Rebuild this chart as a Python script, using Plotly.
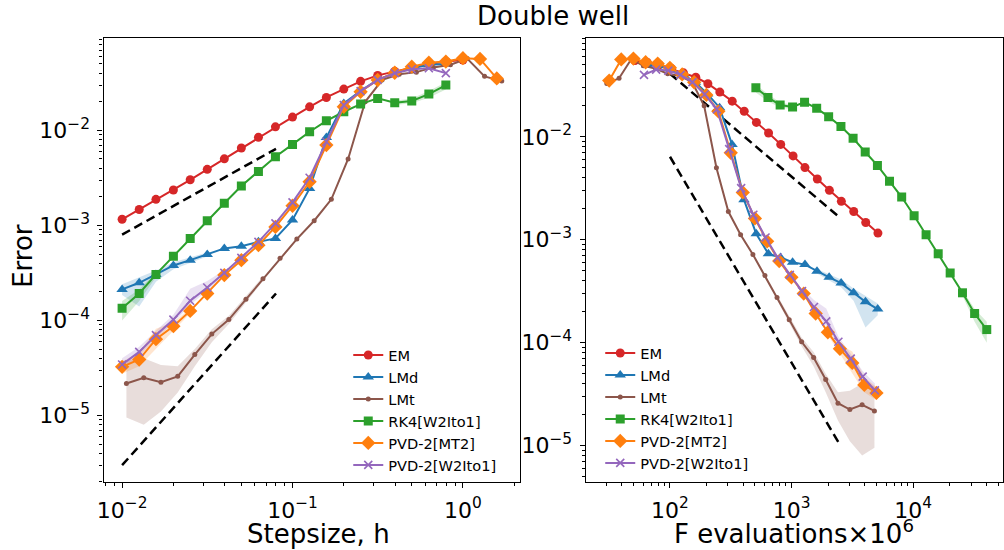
import plotly.graph_objects as go

# ---------------------------------------------------------------------------
# Data: weak error of each integrator for the double-well SDE
# ---------------------------------------------------------------------------
# step sizes (10 per decade)
h_std = [0.01, 0.0126, 0.0158, 0.02, 0.0251, 0.0316, 0.0398, 0.0501, 0.0631, 0.0794,
         0.1, 0.126, 0.158, 0.2, 0.251, 0.316, 0.398, 0.501, 0.631, 0.794,
         1.0, 1.26, 1.58]
h_lmt = [0.0106, 0.0134, 0.0169, 0.0212, 0.0267, 0.0336, 0.0423, 0.0533, 0.0671, 0.0845,
         0.106, 0.134, 0.169, 0.212, 0.267, 0.336, 0.423, 0.533, 0.671, 0.845,
         1.06, 1.34, 1.69]

err_em = [1.16e-3, 1.47e-3, 1.88e-3, 2.36e-3, 3.02e-3, 3.89e-3, 5.02e-3, 6.52e-3, 8.44e-3, 1.09e-2,
          1.38e-2, 1.77e-2, 2.22e-2, 2.72e-2, 3.28e-2, 3.79e-2, 4.18e-2, 4.6e-2, 5.0e-2, 5.3e-2,
          5.5e-2]
err_lmd = [2.12e-4, 2.49e-4, 3.05e-4, 3.79e-4, 4.31e-4, 4.95e-4, 5.73e-4, 6.05e-4, 6.71e-4, 7.3e-4,
           1.14e-3, 2.45e-3, 8.4e-3, 1.92e-2, 2.6e-2, 3.39e-2, 4.0e-2, 4.5e-2, 4.9e-2, 5.0e-2]
err_lmt = [2.17e-5, 2.49e-5, 2.24e-5, 2.58e-5, 4.38e-5, 7.18e-5, 1.02e-4, 1.67e-4, 2.74e-4, 4.5e-4,
           7.18e-4, 1.12e-3, 1.88e-3, 5.0e-3, 2.0e-2, 3.4e-2, 3.9e-2, 4.1e-2, 4.6e-2, 4.9e-2,
           5.7e-2, 3.7e-2, 3.3e-2]
err_rk4 = [1.34e-4, 1.92e-4, 3.05e-4, 4.75e-4, 7.3e-4, 1.12e-3, 1.71e-3, 2.6e-3, 3.7e-3, 5.27e-3,
           7.12e-3, 9.67e-3, 1.26e-2, 1.57e-2, 1.89e-2, 2.17e-2, 1.95e-2, 2.04e-2, 2.41e-2, 3.0e-2]
err_mt2 = [3.25e-5, 3.88e-5, 6.35e-5, 8.7e-5, 1.26e-4, 1.92e-4, 3.0e-4, 4.31e-4, 6.2e-4, 9.65e-4,
           1.61e-3, 2.88e-3, 7.0e-3, 1.77e-2, 2.55e-2, 3.39e-2, 4.04e-2, 4.68e-2, 5.15e-2, 5.3e-2,
           5.75e-2, 5.65e-2, 3.52e-2]
err_w2 = [3.44e-5, 4.67e-5, 7.0e-5, 1.02e-4, 1.61e-4, 2.22e-4, 3.17e-4, 4.56e-4, 6.71e-4, 1.05e-3,
          1.75e-3, 3.17e-3, 7.59e-3, 1.85e-2, 2.59e-2, 3.4e-2, 4.0e-2, 4.4e-2, 4.5e-2, 4.0e-2]

# cost: force evaluations (x 10^6) for each run
f_em = [5140, 4080, 3250, 2570, 2050, 1630, 1290, 1030, 815, 647,
        514, 408, 325, 257, 205, 163, 129, 103, 81.5, 64.7, 51.4]
f_lmd = [5120, 4060, 3240, 2560, 2040, 1620, 1290, 1020, 811, 645,
         512, 406, 324, 256, 204, 162, 129, 102, 81.1, 64.5]
f_lmt = [4810, 3810, 3020, 2410, 1910, 1520, 1210, 957, 760, 604,
         481, 381, 302, 241, 191, 152, 121, 95.7, 76.0, 60.4, 48.1, 38.1, 30.2]
f_rk4 = [40400, 32100, 25500, 20200, 16100, 12800, 10200, 8060, 6400, 5090,
         4040, 3210, 2550, 2020, 1610, 1280, 1020, 806, 640, 509]
f_mt2 = [5000, 3970, 3160, 2500, 1990, 1580, 1260, 998, 792, 630,
         500, 397, 316, 250, 199, 158, 126, 99.8, 79.2, 63.0, 50.0, 39.7, 31.6]
f_w2 = [4850, 3850, 3070, 2430, 1930, 1530, 1220, 968, 769, 611,
        485, 385, 307, 243, 193, 153, 122, 96.8, 76.9, 61.1]

# confidence bands: (first index, lower, upper)
band_lmd = [(0, [1.85e-4, 1.4e-4, 2.55e-4, 3.45e-4, 4.05e-4, 4.7e-4],
                [2.4e-4, 2.85e-4, 3.35e-4, 4.1e-4, 4.6e-4, 5.2e-4])]
band_lmt = [(0, [9.5e-6, 8.0e-6, 1.1e-5, 1.75e-5, 3.3e-5, 5.9e-5, 9.2e-5, 1.55e-4, 2.6e-4],
                [3.8e-5, 4.0e-5, 3.4e-5, 3.3e-5, 5.0e-5, 8.1e-5, 1.12e-4, 1.78e-4, 2.9e-4])]
band_rk4 = [(0, [1.0e-4, 1.6e-4, 2.85e-4], [1.6e-4, 2.12e-4, 3.25e-4]),
            (16, [1.85e-2, 1.93e-2, 2.2e-2, 2.7e-2], [2.05e-2, 2.16e-2, 2.6e-2, 3.2e-2])]
band_mt2 = [(0, [2.75e-5, 3.3e-5, 5.0e-5, 7.8e-5, 1.18e-4], [3.7e-5, 4.6e-5, 8.2e-5, 9.6e-5, 1.34e-4])]
band_w2 = [(0, [3.1e-5, 4.2e-5, 6.4e-5, 9.4e-5, 1.45e-4, 2.05e-4, 3.0e-4],
               [4.0e-5, 5.3e-5, 7.8e-5, 1.15e-4, 2.15e-4, 2.6e-4, 3.4e-4])]

# reference slopes (two end points each)
ref_h1_x, ref_h1_y = [0.01, 0.08], [8.0e-4, 6.4e-3]
ref_h2_x, ref_h2_y = [0.01, 0.08], [3.0e-6, 1.92e-4]
ref_f1_x, ref_f1_y = [100, 2500], [4.1e-2, 1.64e-3]
ref_f2_x, ref_f2_y = [100, 2500], [6.4e-3, 1.02e-5]

methods = [
    # name, colour, rgba fill, marker symbol, marker size, h, F, error, bands
    ("EM", "#d62728", "rgba(214,39,40,0.2)", "circle", 9, h_std, f_em, err_em, []),
    ("LMd", "#1f77b4", "rgba(31,119,180,0.2)", "triangle-up", 10, h_std, f_lmd, err_lmd, band_lmd),
    ("LMt", "#8c564b", "rgba(140,86,75,0.2)", "circle", 5, h_lmt, f_lmt, err_lmt, band_lmt),
    ("RK4[W2Ito1]", "#2ca02c", "rgba(44,160,44,0.2)", "square", 9, h_std, f_rk4, err_rk4, band_rk4),
    ("PVD-2[MT2]", "#ff7f0e", "rgba(255,127,14,0.2)", "diamond", 11, h_std, f_mt2, err_mt2, band_mt2),
    ("PVD-2[W2Ito1]", "#9467bd", "rgba(148,103,189,0.2)", "x-thin", 8, h_std, f_w2, err_w2, band_w2),
]

FONT = "DejaVu Sans"
fig = go.Figure()

panels = [("x", "y", "legend"), ("x2", "y2", "legend2")]

# shaded bands first so lines sit on top
for xa, ya, lg in panels:
    for name, color, fillc, sym, size, h, F, err, bands in methods:
        xs = h if xa == "x" else F
        for start, lo, hi in bands:
            seg = xs[start:start + len(lo)]
            fig.add_trace(go.Scatter(
                x=seg + seg[::-1], y=hi + lo[::-1], xaxis=xa, yaxis=ya,
                fill="toself", fillcolor=fillc, line=dict(width=0),
                mode="lines", hoverinfo="skip", showlegend=False))

# dashed reference slopes
for xa, ya, rx, ry in [("x", "y", ref_h1_x, ref_h1_y), ("x", "y", ref_h2_x, ref_h2_y),
                       ("x2", "y2", ref_f1_x, ref_f1_y), ("x2", "y2", ref_f2_x, ref_f2_y)]:
    fig.add_trace(go.Scatter(x=rx, y=ry, xaxis=xa, yaxis=ya, mode="lines",
                             line=dict(color="black", width=2.5, dash="9px,5px"),
                             showlegend=False, hoverinfo="skip"))

# error curves
for xa, ya, lg in panels:
    for name, color, fillc, sym, size, h, F, err, bands in methods:
        xs = h if xa == "x" else F
        n = len(err)
        marker = dict(symbol=sym, size=size, color=color)
        if sym == "x-thin":
            marker["line"] = dict(color=color, width=1.6)
        fig.add_trace(go.Scatter(
            x=xs[:n], y=err, xaxis=xa, yaxis=ya, name=name, legend=lg,
            mode="lines+markers", line=dict(color=color, width=2), marker=marker))


def log_minor(lo, hi):
    vals = []
    for e in range(lo, hi):
        for m in range(2, 10):
            vals.append(m * 10.0 ** e)
    return vals


def sup_labels(exps):
    return [("10<sup>" + (str(e) if e >= 0 else "\u2212" + str(-e)) + "</sup>") for e in exps]


axis_common = dict(
    type="log", showline=True, linecolor="black", linewidth=1.3, mirror=True,
    ticks="outside", ticklen=5, tickwidth=1.2, tickcolor="black",
    showgrid=False, zeroline=False, ticklabelstandoff=3,
    tickfont=dict(family=FONT, size=22, color="black"),
    minor=dict(ticks="outside", ticklen=3, tickwidth=1, tickcolor="black", showgrid=False),
)

y_dom = [68.0 / 550, 512.0 / 550]

fig.update_layout(
    width=1004, height=550, margin=dict(l=0, r=0, t=0, b=0),
    paper_bgcolor="white", plot_bgcolor="white",
    font=dict(family=FONT, color="black"),
    xaxis=dict(axis_common, domain=[97.3 / 1004, 517.3 / 1004], range=[-2.109, 0.336],
               tickmode="array", tickvals=[0.01, 0.1, 1.0], ticktext=sup_labels([-2, -1, 0]),
               minor=dict(axis_common["minor"], tickmode="array", tickvals=log_minor(-3, 1)),
               anchor="y"),
    yaxis=dict(axis_common, domain=y_dom, range=[-5.70, -1.028],
               tickmode="array", tickvals=[1e-5, 1e-4, 1e-3, 1e-2], ticktext=sup_labels([-5, -4, -3, -2]),
               minor=dict(axis_common["minor"], tickmode="array", tickvals=log_minor(-6, -1)),
               anchor="x"),
    xaxis2=dict(axis_common, domain=[583.3 / 1004, 1.0], range=[1.306, 4.74],
                tickmode="array", tickvals=[1e2, 1e3, 1e4], ticktext=sup_labels([2, 3, 4]),
                minor=dict(axis_common["minor"], tickmode="array", tickvals=log_minor(1, 5)),
                anchor="y2"),
    yaxis2=dict(axis_common, domain=y_dom, range=[-5.354, -1.04],
                tickmode="array", tickvals=[1e-5, 1e-4, 1e-3, 1e-2], ticktext=sup_labels([-5, -4, -3, -2]),
                minor=dict(axis_common["minor"], tickmode="array", tickvals=log_minor(-6, -1)),
                anchor="x2"),
    legend=dict(x=344 / 1004, y=1 - 339 / 550, xanchor="left", yanchor="top",
                bgcolor="rgba(0,0,0,0)", borderwidth=0,
                font=dict(family=FONT, size=14.6, color="black")),
    legend2=dict(x=598 / 1004, y=1 - 337 / 550, xanchor="left", yanchor="top",
                 bgcolor="rgba(0,0,0,0)", borderwidth=0,
                 font=dict(family=FONT, size=14.6, color="black")),
    annotations=[
        dict(text="Double well", x=550 / 1004, y=1 - 16 / 550, xref="paper", yref="paper",
             showarrow=False, xanchor="center", yanchor="middle",
             font=dict(family=FONT, size=26, color="black")),
        dict(text="Stepsize, h", x=314 / 1004, y=1 - 534 / 550, xref="paper", yref="paper",
             showarrow=False, xanchor="center", yanchor="middle",
             font=dict(family=FONT, size=26, color="black")),
        dict(text="F evaluations\u00d710<sup>6</sup>", x=793 / 1004, y=1 - 532 / 550,
             xref="paper", yref="paper", showarrow=False, xanchor="center", yanchor="middle",
             font=dict(family=FONT, size=26, color="black")),
        dict(text="Error", x=16 / 1004, y=1 - 256 / 550, xref="paper", yref="paper",
             showarrow=False, xanchor="center", yanchor="middle", textangle=-90,
             font=dict(family=FONT, size=26, color="black")),
    ],
)

fig.write_html("out.html")
